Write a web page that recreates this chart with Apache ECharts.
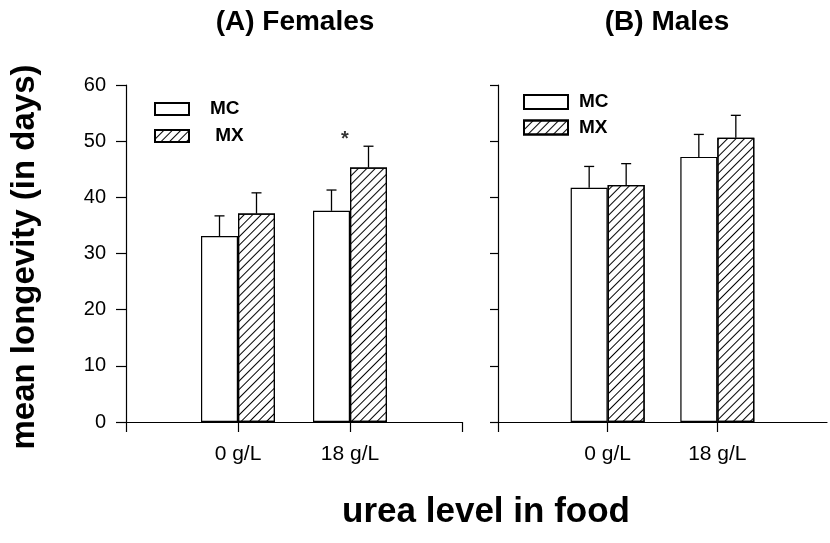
<!DOCTYPE html>
<html>
<head>
<meta charset="utf-8">
<script src="https://cdn.jsdelivr.net/npm/echarts@6/dist/echarts.min.js"></script>
<style>
  html, body { margin: 0; padding: 0; background: #fff; }
  #chart { width: 830px; height: 543px; }
</style>
</head>
<body>
<div id="chart"></div>
<script>
// Urea levels in the food (x categories of each panel)
const groups = ['0 g/L', '18 g/L'];

// Mean longevity (days) and standard errors, females
const femalesMC = [33.1, 37.6];
const femalesMX = [37.1, 45.3];
const femalesMCErr = [3.6, 3.7];
const femalesMXErr = [3.7, 3.8];

// Mean longevity (days) and standard errors, males
const malesMC = [41.7, 47.2];
const malesMX = [42.2, 50.6];
const malesMCErr = [3.8, 4.0];
const malesMXErr = [3.8, 4.0];

// Value axis range
const yMin = 0;
const yMax = 60;
const yStep = 10;

// Significance marker (females, 18 g/L)
const starGroup = '18 g/L';
const starY = 50.7;

const FONT = '"Liberation Sans", Arial, Helvetica, sans-serif';
const BAR_W = 37;

// Axis has an empty slot on both sides so the bar pairs sit on the inner ticks
const axisCats = [''].concat(groups, ['']);
const pad = arr => [null].concat(arr, [null]);
const errRows = (means, errs, side) =>
  means.map((m, i) => [i + 1, m, errs[i], side]);

const hatch = {
  symbol: 'rect',
  symbolSize: 1,
  dashArrayX: [1, 0],
  dashArrayY: [1, 5],
  rotation: -Math.PI / 4,
  color: '#000',
  backgroundColor: 'rgba(0,0,0,0)'
};

function renderErr(params, api) {
  const idx = api.value(0);
  const mean = api.value(1);
  const err = api.value(2);
  const side = api.value(3);
  const base = api.coord([idx, mean]);
  const top = api.coord([idx, mean + err]);
  const x = base[0] + side * BAR_W / 2;
  const st = { stroke: '#000', lineWidth: 1.3 };
  return {
    type: 'group',
    children: [
      { type: 'line', shape: { x1: x, y1: base[1], x2: x, y2: top[1] }, style: st },
      { type: 'line', shape: { x1: x - 5, y1: top[1], x2: x + 5, y2: top[1] }, style: st }
    ]
  };
}

function xAxisFor(gridIndex, lastTick) {
  return {
    type: 'category',
    gridIndex,
    data: axisCats,
    boundaryGap: false,
    axisLine: { lineStyle: { color: '#000', width: 1.2 } },
    axisTick: {
      length: 10,
      lineStyle: { color: '#000', width: 1.2 },
      interval: (i) => i <= lastTick
    },
    axisLabel: { color: '#000', fontSize: 21, fontFamily: FONT, margin: 22, interval: 0 },
    splitLine: { show: false }
  };
}

function yAxisFor(gridIndex, showLabels, tickLen) {
  return {
    type: 'value',
    gridIndex,
    min: yMin,
    max: yMax,
    interval: yStep,
    axisLine: { show: true, lineStyle: { color: '#000', width: 1.2 } },
    axisTick: { show: true, length: tickLen, lineStyle: { color: '#000', width: 1.2 } },
    axisLabel: { show: showLabels, color: '#000', fontSize: 20, fontFamily: FONT, margin: 20 },
    splitLine: { show: false }
  };
}

const barBase = {
  type: 'bar',
  barWidth: BAR_W,
  barGap: '0%',
  silent: true
};
const plainStyle = { color: '#fff', borderColor: '#000', borderWidth: 1.2 };
const hatchStyle = { color: '#fff', borderColor: '#000', borderWidth: 1.2, decal: hatch };

const legendText = {
  fontSize: 19,
  fontWeight: 'bold',
  fontFamily: FONT,
  color: '#000',
  lineHeight: 20
};

const option = {
  animation: false,
  backgroundColor: '#fff',
  grid: [
    { left: 126, top: 85, width: 336, height: 337 },
    { left: 498, top: 85, width: 337, height: 337 }
  ],
  xAxis: [xAxisFor(0, 3), xAxisFor(1, 2)],
  yAxis: [yAxisFor(0, true, 10), yAxisFor(1, false, 8)],
  legend: [
    {
      data: ['MC', 'MX'],
      orient: 'vertical',
      left: 154, top: 99,
      itemWidth: 34, itemHeight: 12, itemGap: 7,
      icon: 'rect',
      selectedMode: false,
      padding: 0,
      formatter: n => (n === 'MX' ? ' ' + n : n),
      textStyle: Object.assign({ padding: [0, 0, 0, 16] }, legendText)
    },
    {
      data: ['MC', 'MX'],
      orient: 'vertical',
      left: 523, top: 92,
      itemWidth: 44, itemHeight: 14, itemGap: 5.6,
      icon: 'rect',
      selectedMode: false,
      padding: 0,
      textStyle: Object.assign({ padding: [0, 0, 0, 6] }, legendText)
    }
  ],
  graphic: [
    {
      type: 'text', x: 295, y: 22, silent: true,
      style: { text: '(A) Females', font: 'bold 28px ' + FONT, fill: '#000', align: 'center', verticalAlign: 'middle' }
    },
    {
      type: 'text', x: 667, y: 22.5, silent: true,
      style: { text: '(B) Males', font: 'bold 28px ' + FONT, fill: '#000', align: 'center', verticalAlign: 'middle' }
    },
    {
      type: 'text', x: 486, y: 512, silent: true,
      style: { text: 'urea level in food', font: 'bold 35px ' + FONT, fill: '#000', align: 'center', verticalAlign: 'middle' }
    },
    {
      type: 'text', x: 25, y: 257, rotation: Math.PI / 2, silent: true,
      style: { text: 'mean longevity (in days)', font: 'bold 33px ' + FONT, fill: '#000', align: 'center', verticalAlign: 'middle' }
    }
  ],
  series: [
    Object.assign({ name: 'MC', xAxisIndex: 0, yAxisIndex: 0, data: pad(femalesMC), itemStyle: plainStyle }, barBase),
    Object.assign({ name: 'MX', xAxisIndex: 0, yAxisIndex: 0, data: pad(femalesMX), itemStyle: hatchStyle }, barBase),
    Object.assign({ name: 'MC', xAxisIndex: 1, yAxisIndex: 1, data: pad(malesMC), itemStyle: plainStyle }, barBase),
    Object.assign({ name: 'MX', xAxisIndex: 1, yAxisIndex: 1, data: pad(malesMX), itemStyle: hatchStyle }, barBase),
    {
      type: 'custom', name: 'femalesErr', xAxisIndex: 0, yAxisIndex: 0, z: 5, silent: true,
      renderItem: renderErr, encode: { x: 0, y: 1 },
      data: errRows(femalesMC, femalesMCErr, -1).concat(errRows(femalesMX, femalesMXErr, 1))
    },
    {
      type: 'custom', name: 'malesErr', xAxisIndex: 1, yAxisIndex: 1, z: 5, silent: true,
      renderItem: renderErr, encode: { x: 0, y: 1 },
      data: errRows(malesMC, malesMCErr, -1).concat(errRows(malesMX, malesMXErr, 1))
    },
    {
      type: 'scatter', name: 'signif', xAxisIndex: 0, yAxisIndex: 0, silent: true,
      symbolSize: 0,
      data: [[axisCats.indexOf(starGroup), starY]],
      label: {
        show: true, position: 'inside', formatter: '*',
        fontSize: 20, fontWeight: 'bold', fontFamily: FONT, color: '#000',
        offset: [-5, 2]
      }
    }
  ]
};

const chart = echarts.init(document.getElementById('chart'), null, { renderer: 'canvas' });
chart.setOption(option);
</script>
</body>
</html>
